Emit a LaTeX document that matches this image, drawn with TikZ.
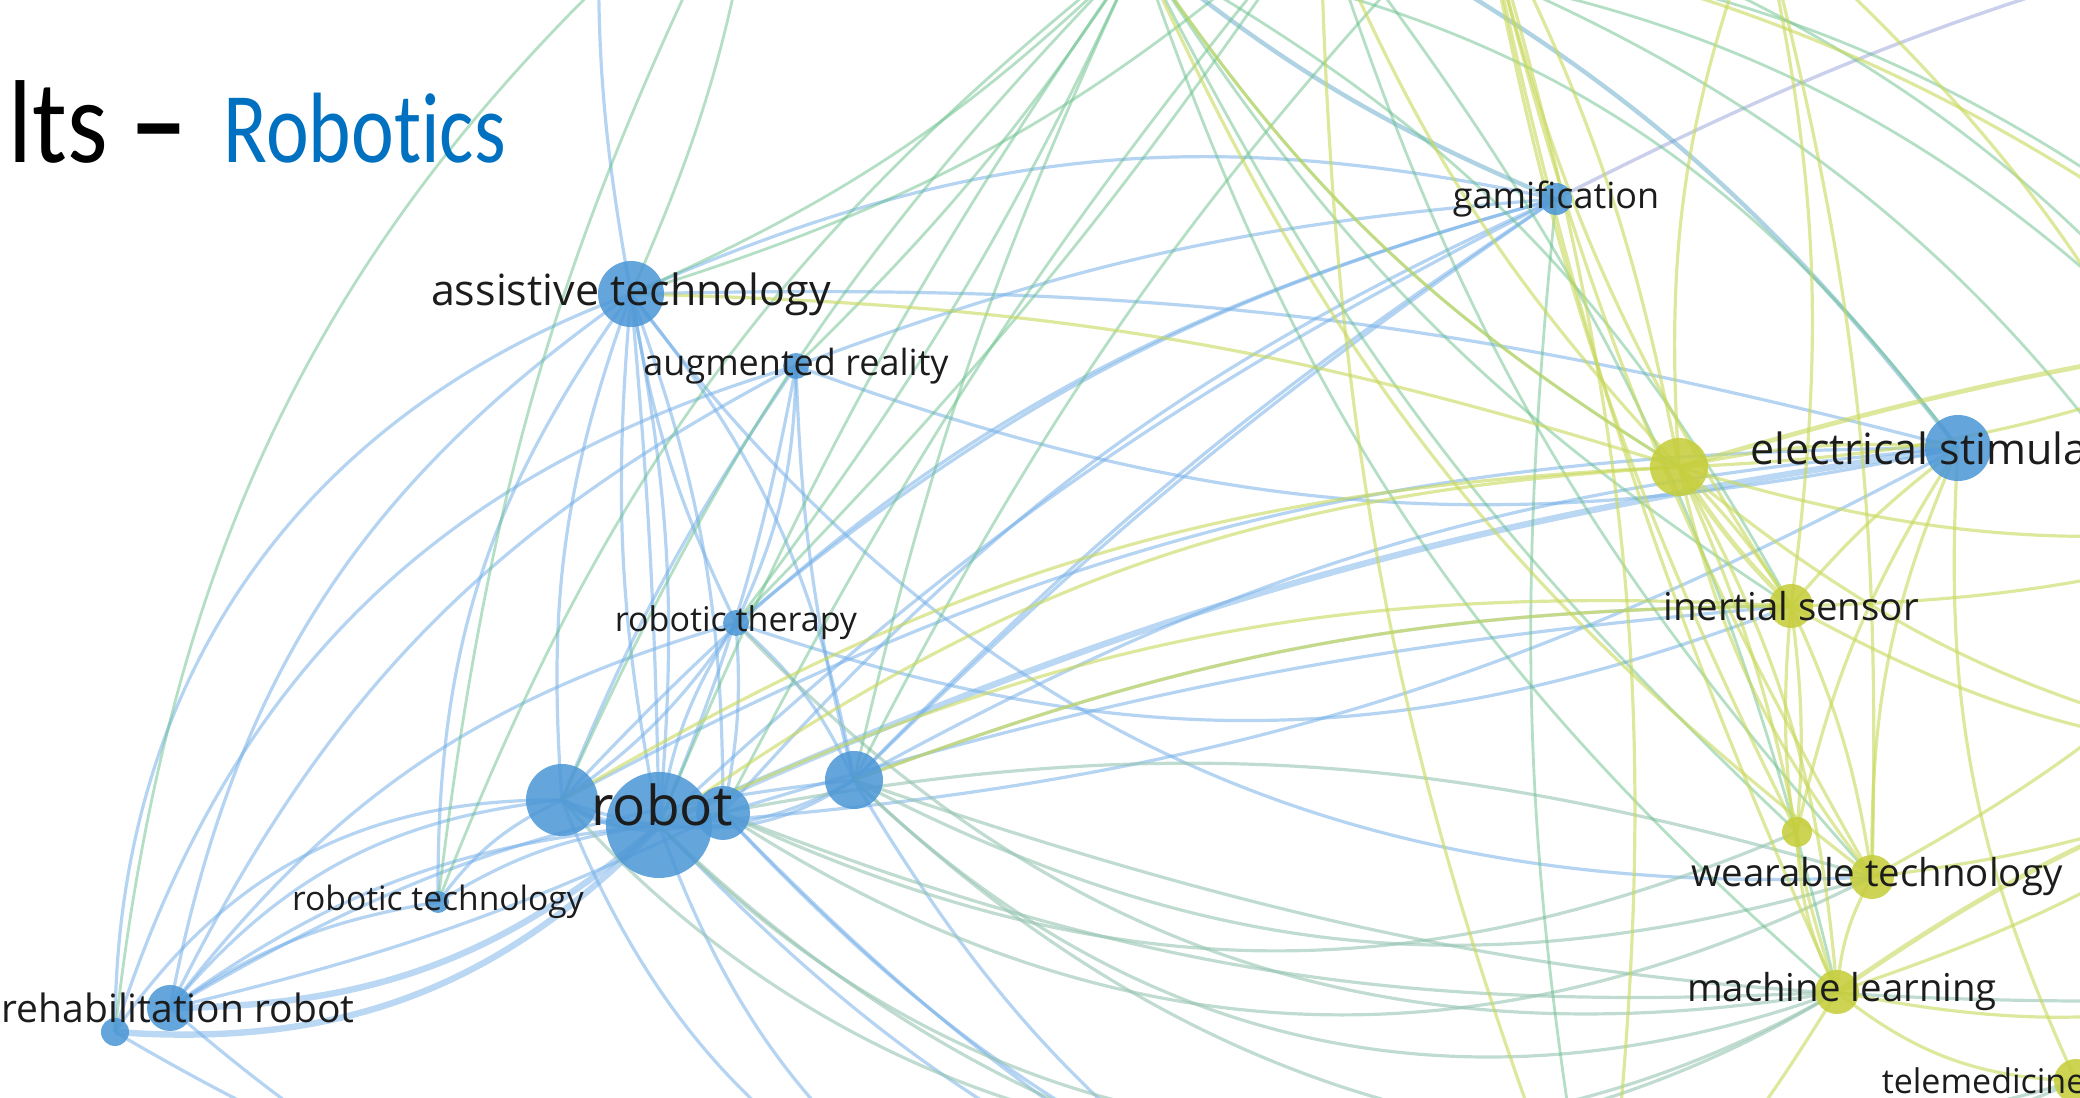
\documentclass[tikz,border=0pt]{standalone}
\usepackage{fontspec}
\setmainfont{Open Sans}
\newfontfamily\titlefont{Carlito}[Ligatures={NoCommon}]
\pgfdeclarelayer{edges}
\pgfsetlayers{edges,main}
\definecolor{nblue}{RGB}{78,152,214}
\definecolor{nyel}{RGB}{198,206,60}
\definecolor{eblue}{RGB}{118,176,232}
\definecolor{eyel}{RGB}{200,216,90}
\definecolor{egrn}{RGB}{105,192,140}
\definecolor{eteal}{RGB}{95,168,200}
\definecolor{emix}{RGB}{150,196,178}
\definecolor{epurp}{RGB}{150,160,215}
\definecolor{titleblue}{RGB}{0,112,192}
\definecolor{labtext}{RGB}{28,28,28}
\tikzset{
  bn/.style={circle,inner sep=0pt,fill=nblue,fill opacity=0.88,draw=none},
  yn/.style={circle,inner sep=0pt,fill=nyel,fill opacity=0.88,draw=none},
  lab/.style={text=labtext,inner sep=0pt,anchor=center},
  eb/.style={draw=eblue,line width=0.8pt,draw opacity=0.55},
  ebt/.style={draw=eblue,line width=1.6pt,draw opacity=0.5},
  ey/.style={draw=eyel,line width=0.8pt,draw opacity=0.6},
  eyt/.style={draw=eyel,line width=1.2pt,draw opacity=0.6},
  eg/.style={draw=egrn,line width=0.7pt,draw opacity=0.5},
  em/.style={draw=emix,line width=0.8pt,draw opacity=0.6},
  et/.style={draw=eteal,line width=1.1pt,draw opacity=0.5},
  ep/.style={draw=epurp,line width=0.85pt,draw opacity=0.5},
}
\begin{document}
\begin{tikzpicture}[x=0.25pt,y=-0.25pt]
\useasboundingbox (0,0) rectangle (2080,1098);
\clip (0,0) rectangle (2080,1098);

% off-frame ends
\coordinate (P1) at (760,-160);
\coordinate (P2) at (600,-120);
\coordinate (H1) at (1140,-50);
\coordinate (H2) at (1320,-90);
\coordinate (H3) at (1480,-110);
\coordinate (H4) at (1760,-90);
\coordinate (H5) at (2260,-70);
\coordinate (R1) at (2300,330);
\coordinate (R2) at (2320,520);
\coordinate (R3) at (2300,760);
\coordinate (R4) at (2250,1000);
\coordinate (B1) at (1000,1260);
\coordinate (B2) at (1300,1260);
\coordinate (B3) at (700,1300);
\coordinate (B4) at (1600,1300);

% nodes
\node[bn,minimum size=16.5pt] (AT) at (631,294) {};
\node[bn,minimum size=6.5pt] (AR) at (796,366) {};
\node[bn,minimum size=8pt] (GA) at (1556,199) {};
\node[bn,minimum size=6.5pt] (RT) at (736,623) {};
\node[bn,minimum size=18pt] (LB) at (562,800) {};
\node[bn,minimum size=14.5pt] (MB) at (854,780) {};
\node[bn,minimum size=26.5pt] (RB) at (659,825) {};
\node[bn,minimum size=13.5pt] (RS) at (723,813) {};
\node[bn,minimum size=5.5pt] (TE) at (438,902) {};
\node[bn,minimum size=11.5pt] (RR) at (170,1008) {};
\node[bn,minimum size=7pt] (RR2) at (115,1032) {};
\node[yn,minimum size=14.5pt] (YB) at (1679,467) {};
\node[bn,minimum size=16.5pt] (ES) at (1958,448) {};
\node[yn,minimum size=11pt] (IS) at (1791,606) {};
\node[yn,minimum size=7.5pt] (YS) at (1797,832) {};
\node[yn,minimum size=11pt] (WT) at (1872,877) {};
\node[yn,minimum size=11pt] (ML) at (1837,992) {};
\node[yn,minimum size=11pt] (TM) at (2076,1081) {};

\begin{pgfonlayer}{edges}
\clip (0,0) rectangle (2080,1098);
% blue edges
\foreach \a/\b/\c in {RR2/AT/35,RR/AT/22,RR2/AR/28,RR/AR/18,RR/RT/18,RR/RB/15,RR/LB/22,RR2/LB/28,
  RR/MB/12,RR/TE/12,TE/AT/18,TE/RB/12,TE/LB/14,AT/RB/8,AT/RB/-8,AT/RB/2,AT/LB/-12,AT/RS/10,AT/MB/14,
  AT/RT/-8,AT/GA/18,AT/ES/8,AT/P2/6,AR/RB/6,AR/LB/-6,AR/MB/-6,AR/RT/12,AR/ES/-16,AR/GA/8,
  RT/RB/-12,RT/LB/10,RT/RS/8,RT/MB/12,RT/GA/12,RT/IS/-20,AT/WT/-28,LB/GA/16,RS/GA/12,MB/GA/6,MB/ES/12,
  LB/ES/14,RS/IS/6,RB/B1/-18,RB/B2/-12,RS/B2/-8,MB/B2/-12,LB/B1/-22,RS/B4/-18,
  LB/RS/-30,LB/MB/-25,RB/MB/-20,RR/B3/-12,RR2/B1/-16,RR/RS/-6,GA/RB/-8,GA/MB/-5,RB/ES/-12}
  \draw[eb] (\a.center) to[bend left=\c] (\b.center);
\foreach \a/\b/\c in {RR/RB/-20,RR2/RB/-25,RB/ES/8,LB/RB/-20}
  \draw[ebt] (\a.center) to[bend left=\c] (\b.center);
\draw[ep] (GA.center) to[bend left=6] (H5);
\draw[et] (ES.center) to[bend right=12] (H2);
\draw[et] (GA.center) to[bend left=8] (H1);
% blue to yellow edges
\foreach \a/\b/\c in {MB/ML/-32,MB/TM/-30,RB/ML/-38,RS/WT/-30,LB/ML/-40,MB/WT/-22,RB/TM/-34,
  RS/YS/-24,RT/ML/-28,RB/WT/14,MB/IS/10,RS/ML/-12,MB/R4/-10}
  \draw[em] (\a.center) to[bend left=\c] (\b.center);
% green edges
\foreach \a/\b/\c in {RR2/P1/22,AT/H1/-10,AR/H1/-6,RT/H1/-6,RB/H1/6,MB/H1/6,LB/H1/10,RS/H2/6,
  TE/H1/15,YB/H1/12,IS/H1/12,ML/H1/15,WT/H2/12,YS/H1/10,H1/ES/22,H1/R1/22,H1/R2/26,H2/R3/22,
  H3/R2/18,AT/H2/-12,MB/H3/8,RT/H2/-5,GA/B4/-8,H2/ML/12,H1/IS/16,AT/P1/-8,TE/P1/10}
  \draw[eg] (\a.center) to[bend left=\c] (\b.center);
% yellow edges
\foreach \a/\b/\c in {YB/IS/6,YB/ML/12,YB/WT/-12,YB/YS/6,YB/ES/8,YB/R1/-10,YB/R2/-12,YB/R3/-14,
  YB/H2/10,YB/H3/-8,YB/H4/12,YB/RB/-16,YB/LB/-14,YB/AT/-8,IS/ES/6,IS/ML/-12,IS/WT/8,IS/YS/6,IS/R2/-8,
  IS/R3/-12,IS/H3/10,IS/H4/-10,IS/RB/-14,IS/MB/-10,ML/WT/12,ML/YS/12,ML/TM/-18,ML/R3/-8,ML/R4/-10,
  ML/B4/6,ML/H3/6,WT/R2/-10,WT/R3/-8,WT/ES/12,WT/H4/-8,YS/H3/8,YS/ES/10,
  TM/R2/-12,TM/ES/14,H3/B4/12,H2/B4/-10,H4/R3/16,H2/R1/14,H3/WT/-8,H1/YB/-12,H1/WT/-14}
  \draw[ey] (\a.center) to[bend left=\c] (\b.center);
\foreach \a/\b/\c in {YB/R1/4,ML/R3/8,YB/IS/-6}
  \draw[eyt] (\a.center) to[bend left=\c] (\b.center);
\end{pgfonlayer}

% labels
\node[lab,font=\fontsize{10.75}{12}\selectfont] (ATl) at (AT) {assistive technology};
\node[lab,font=\fontsize{9}{10}\selectfont] (ARl) at (AR) {augmented reality};
\node[lab,font=\fontsize{9}{10}\selectfont] (GAl) at (GA) {gamification};
\node[lab,font=\fontsize{8.5}{10}\selectfont] (RTl) at (RT) {robotic therapy};
\node[lab,font=\fontsize{13.75}{15}\selectfont] (RBl) at (662,805) {robot};
\node[lab,font=\fontsize{8.4}{10}\selectfont] (TEl) at (TE) {robotic technology};
\node[lab,font=\fontsize{9.75}{11}\selectfont] (RRl) at (178,1008) {rehabilitation robot};
\node[lab,font=\fontsize{10.75}{12}\selectfont] (ESl) at (ES) {electrical stimulation};
\node[lab,font=\fontsize{9.6}{11}\selectfont] (ISl) at (IS) {inertial sensor};
\node[lab,font=\fontsize{9.6}{11}\selectfont] (WTl) at (1877,877) {wearable technology};
\node[lab,font=\fontsize{9.6}{11}\selectfont] (MLl) at (1842,992) {machine learning};
\node[lab,font=\fontsize{8.5}{10}\selectfont,anchor=west] (TMl) at (1881,1081) {telemedicine};

% title
\node[anchor=base west,inner sep=0pt,font=\titlefont\fontsize{29.5}{31}\selectfont] (T1) at (8,163) {\scalebox{0.88}[1]{lts}\hspace{0.18em}\textbf{–}};
\node[anchor=base west,inner sep=0pt,font=\titlefont\fontsize{25}{27}\selectfont,text=titleblue] (T2) at (223,163) {\scalebox{0.81}[1]{Robotics}};
\end{tikzpicture}
\end{document}
